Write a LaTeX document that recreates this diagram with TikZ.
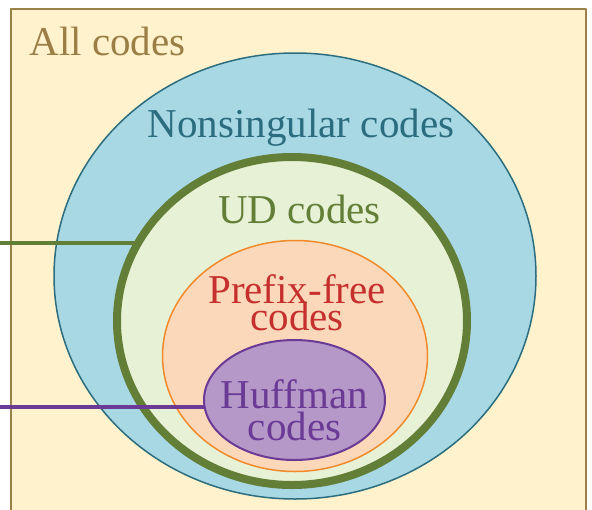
\documentclass[tikz,border=0pt]{standalone}
\usepackage{fontspec}
\setmainfont{Liberation Serif}
\usetikzlibrary{shapes.geometric}
\definecolor{allfill}{HTML}{FFF2CC}
\definecolor{allline}{HTML}{9B8149}
\definecolor{alltext}{HTML}{9A7E46}
\definecolor{nsfill}{HTML}{A8D8E4}
\definecolor{nsline}{HTML}{2B6D7E}
\definecolor{udfill}{HTML}{E7F1D6}
\definecolor{udline}{HTML}{637E36}
\definecolor{pffill}{HTML}{FCD8BA}
\definecolor{pfline}{HTML}{F08A2B}
\definecolor{pftext}{HTML}{C5302E}
\definecolor{hffill}{HTML}{B598C8}
\definecolor{hfline}{HTML}{6A3A95}
\begin{document}
\begin{tikzpicture}[x=1pt, y=-1pt, line join=round, line cap=round,
	codeset/.style={ellipse, inner sep=0pt, draw},
	lbl/.style={font=\fontsize{41}{28}\selectfont, align=center, anchor=base}]
	\useasboundingbox (0,0) rectangle (592,509);
	\draw[allline, fill=allfill, line width=2pt] (11,9) rectangle (586,530);
	% nested sets
	\node[codeset, fill=nsfill, draw=nsline, line width=1.5pt, minimum width=482pt, minimum height=446pt] (nonsing) at (295,276) {};
	\node[codeset, fill=udfill, draw=udline, line width=8pt, minimum width=350pt, minimum height=328pt] (ud) at (292,321) {};
	\node[codeset, fill=pffill, draw=pfline, line width=1.5pt, minimum width=265pt, minimum height=231pt] (prefix) at (295,356) {};
	\node[codeset, fill=hffill, draw=hfline, line width=2pt, minimum width=181pt, minimum height=120pt] (huff) at (294.5,400) {};
	% labels (base = last line)
	\node[lbl, text=alltext, anchor=base west] (alllbl) at (26,55) {All codes};
	\node[lbl, text=nsline] (nslbl) at (301,137) {Nonsingular codes};
	\node[lbl, text=udline] (udlbl) at (299.5,223) {UD codes};
	\node[lbl, text=pftext] (pflbl) at (297,330) {Prefix-free\\[-3pt]codes};
	\node[lbl, text=hfline] (hflbl) at (294.5,440) {Huffman\\[2pt]codes};
	% pointers from the left
	\coordinate (udend) at (0,243);
	\coordinate (hfend) at (0,407);
	\draw[udline, line width=4pt] (udend) -- (udend -| ud.153);
	\draw[hfline, line width=4pt] (hfend) -- (hfend -| huff.184);
\end{tikzpicture}
\end{document}
